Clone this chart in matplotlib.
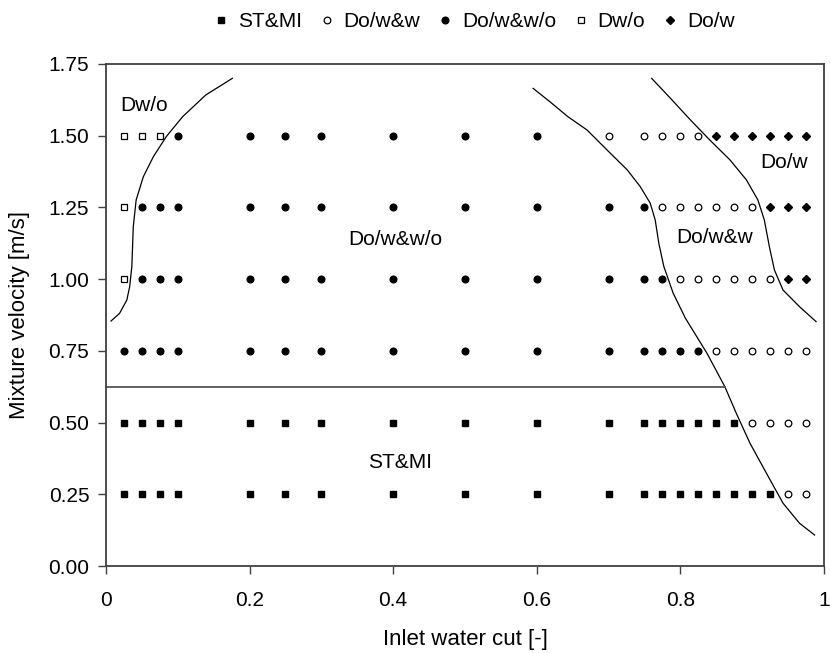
import numpy as np
import matplotlib.pyplot as plt

plt.rcParams['font.family'] = ['Liberation Sans', 'DejaVu Sans']

# ── measured points: inlet water cut per mixture velocity ---------------- #
st_mi_x = [0.025, 0.05, 0.075, 0.1, 0.2, 0.25, 0.3, 0.4, 0.5, 0.6, 0.7,
           0.75, 0.775, 0.8, 0.825, 0.85, 0.875,
           0.025, 0.05, 0.075, 0.1, 0.2, 0.25, 0.3, 0.4, 0.5, 0.6, 0.7,
           0.75, 0.775, 0.8, 0.825, 0.85, 0.875, 0.9, 0.925]
st_mi_v = [0.5] * 17 + [0.25] * 19

dowww_x = [0.85, 0.875, 0.9, 0.925, 0.95, 0.975,          # 0.75 m/s
           0.9, 0.925, 0.95, 0.975,                       # 0.50
           0.95, 0.975,                                   # 0.25
           0.8, 0.825, 0.85, 0.875, 0.9, 0.925,           # 1.00
           0.775, 0.8, 0.825, 0.85, 0.875, 0.9,           # 1.25
           0.7, 0.75, 0.775, 0.8, 0.825]                  # 1.50
dowww_v = [0.75] * 6 + [0.5] * 4 + [0.25] * 2 + [1.0] * 6 + [1.25] * 6 + [1.5] * 5

dowwwo_x = [0.1, 0.2, 0.25, 0.3, 0.4, 0.5, 0.6,                                   # 1.50
            0.05, 0.075, 0.1, 0.2, 0.25, 0.3, 0.4, 0.5, 0.6, 0.7, 0.75,           # 1.25
            0.05, 0.075, 0.1, 0.2, 0.25, 0.3, 0.4, 0.5, 0.6, 0.7, 0.75, 0.775,    # 1.00
            0.025, 0.05, 0.075, 0.1, 0.2, 0.25, 0.3, 0.4, 0.5, 0.6, 0.7,
            0.75, 0.775, 0.8, 0.825]                                              # 0.75
dowwwo_v = [1.5] * 7 + [1.25] * 11 + [1.0] * 12 + [0.75] * 15

dwo_x = [0.025, 0.05, 0.075, 0.025, 0.025]
dwo_v = [1.5, 1.5, 1.5, 1.25, 1.0]

dow_x = [0.85, 0.875, 0.9, 0.925, 0.95, 0.975, 0.925, 0.95, 0.975, 0.95, 0.975]
dow_v = [1.5] * 6 + [1.25] * 3 + [1.0] * 2

# ── regime boundaries ---------------------------------------------------- #
left_x = [0.007, 0.019, 0.029, 0.033, 0.036, 0.038, 0.042, 0.052, 0.066, 0.084, 0.107, 0.139, 0.176]
left_v = [0.854, 0.881, 0.927, 0.974, 1.044, 1.183, 1.276, 1.357, 1.427, 1.497, 1.567, 1.642, 1.700]

mid_x = [0.595, 0.62, 0.643, 0.670, 0.698, 0.726, 0.744, 0.758, 0.765, 0.770, 0.777, 0.790,
         0.807, 0.837, 0.862, 0.878, 0.897, 0.920, 0.943, 0.966, 0.987]
mid_v = [1.665, 1.615, 1.567, 1.520, 1.450, 1.381, 1.323, 1.265, 1.206, 1.125, 1.044, 0.951,
         0.864, 0.742, 0.625, 0.532, 0.428, 0.323, 0.219, 0.149, 0.108]

right_x = [0.760, 0.786, 0.814, 0.841, 0.869, 0.892, 0.908, 0.917, 0.924, 0.931, 0.943, 0.966, 0.989]
right_v = [1.700, 1.631, 1.555, 1.485, 1.416, 1.346, 1.276, 1.206, 1.113, 1.032, 0.962, 0.904, 0.852]

st_x = [0.0, 0.862]
st_v = [0.625, 0.625]

# ── plot ------------------------------------------------------------------ #
fig = plt.figure(figsize=(8.3, 6.53), dpi=100)
ax = fig.add_axes([0.1277, 0.1332, 0.8650, 0.7688])

ms = 4.8
ax.plot(st_mi_x, st_mi_v, 's', color='k', ms=ms, label='ST&MI', zorder=3)
ax.plot(dowww_x, dowww_v, 'o', mfc='white', mec='k', mew=0.9, ms=ms, label='Do/w&w', zorder=3)
ax.plot(dowwwo_x, dowwwo_v, 'o', color='k', ms=ms, label='Do/w&w/o', zorder=3)
ax.plot(dwo_x, dwo_v, 's', mfc='white', mec='k', mew=0.9, ms=ms, label='Dw/o', zorder=3)
ax.plot(dow_x, dow_v, 'D', color='k', ms=ms - 0.6, label='Do/w', zorder=3)

ax.plot(left_x, left_v, color='k', lw=0.9)
ax.plot(mid_x, mid_v, color='k', lw=0.9)
ax.plot(right_x, right_v, color='k', lw=0.9)
ax.plot(st_x, st_v, color='#555555', lw=1.3)

fs = 15
ax.text(0.053, 1.604, 'Dw/o', fontsize=fs, ha='center', va='center')
ax.text(0.403, 1.137, 'Do/w&w/o', fontsize=fs, ha='center', va='center')
ax.text(0.848, 1.145, 'Do/w&w', fontsize=fs, ha='center', va='center')
ax.text(0.944, 1.407, 'Do/w', fontsize=fs, ha='center', va='center')
ax.text(0.409, 0.361, 'ST&MI', fontsize=fs, ha='center', va='center')

ax.set_xlim(0, 1)
ax.set_ylim(0, 1.75)
ax.set_xticks([0, 0.2, 0.4, 0.6, 0.8, 1.0])
ax.set_xticklabels(['0', '0.2', '0.4', '0.6', '0.8', '1'])
ax.set_yticks(np.arange(0, 1.76, 0.25))
ax.set_yticklabels([f'{t:.2f}' for t in np.arange(0, 1.76, 0.25)])
ax.tick_params(direction='out', length=6, width=1, labelsize=fs, color='#404040')
ax.tick_params(axis='x', pad=12)
ax.tick_params(axis='y', pad=6)
for s in ax.spines.values():
    s.set_color('#404040')
    s.set_linewidth(1.3)

ax.set_xlabel('Inlet water cut [-]', fontsize=16, labelpad=14)
ax.set_ylabel('Mixture velocity [m/s]', fontsize=16, labelpad=13)

fig.legend(loc='upper center', bbox_to_anchor=(0.572, 1.0), ncol=5, frameon=False,
           fontsize=fs, handlelength=0.6, handletextpad=0.5, columnspacing=0.9,
           borderaxespad=0.2, numpoints=1)

fig.savefig('out.png', dpi=100)
